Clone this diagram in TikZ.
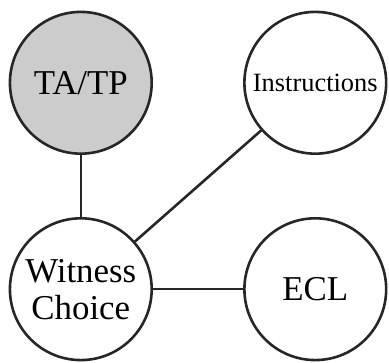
\documentclass[tikz,border=0pt]{standalone}
\usepackage{fontspec}
\setmainfont{Liberation Serif}
\usetikzlibrary{positioning}

\begin{document}
\begin{tikzpicture}[scale=1.0,
        state/.style={draw=black!85,circle,line width=2.6pt,minimum size=5cm,inner sep=0pt,align=center,font=\fontsize{35}{37}\selectfont},
        link/.style={draw=black!85,line width=2.6pt}]

                \useasboundingbox (0,0) rectangle (13.72,12.77);

                \node[state,fill=black!20] (tatp) at(2.85,9.85) {TA/TP};
                \node[state,font=\fontsize{26.5}{30}\selectfont] (instr) at(11.12,9.85) {Instructions};
                \node[state] (witness) at(2.85,2.57) {Witness\\Choice};
                \node[state] (ecl) at(11.12,2.57) {ECL};

                \draw[link] (tatp)--(witness);
                \draw[link] (witness)--(instr);
                \draw[link] (witness)--(ecl);

            \end{tikzpicture}
\end{document}
